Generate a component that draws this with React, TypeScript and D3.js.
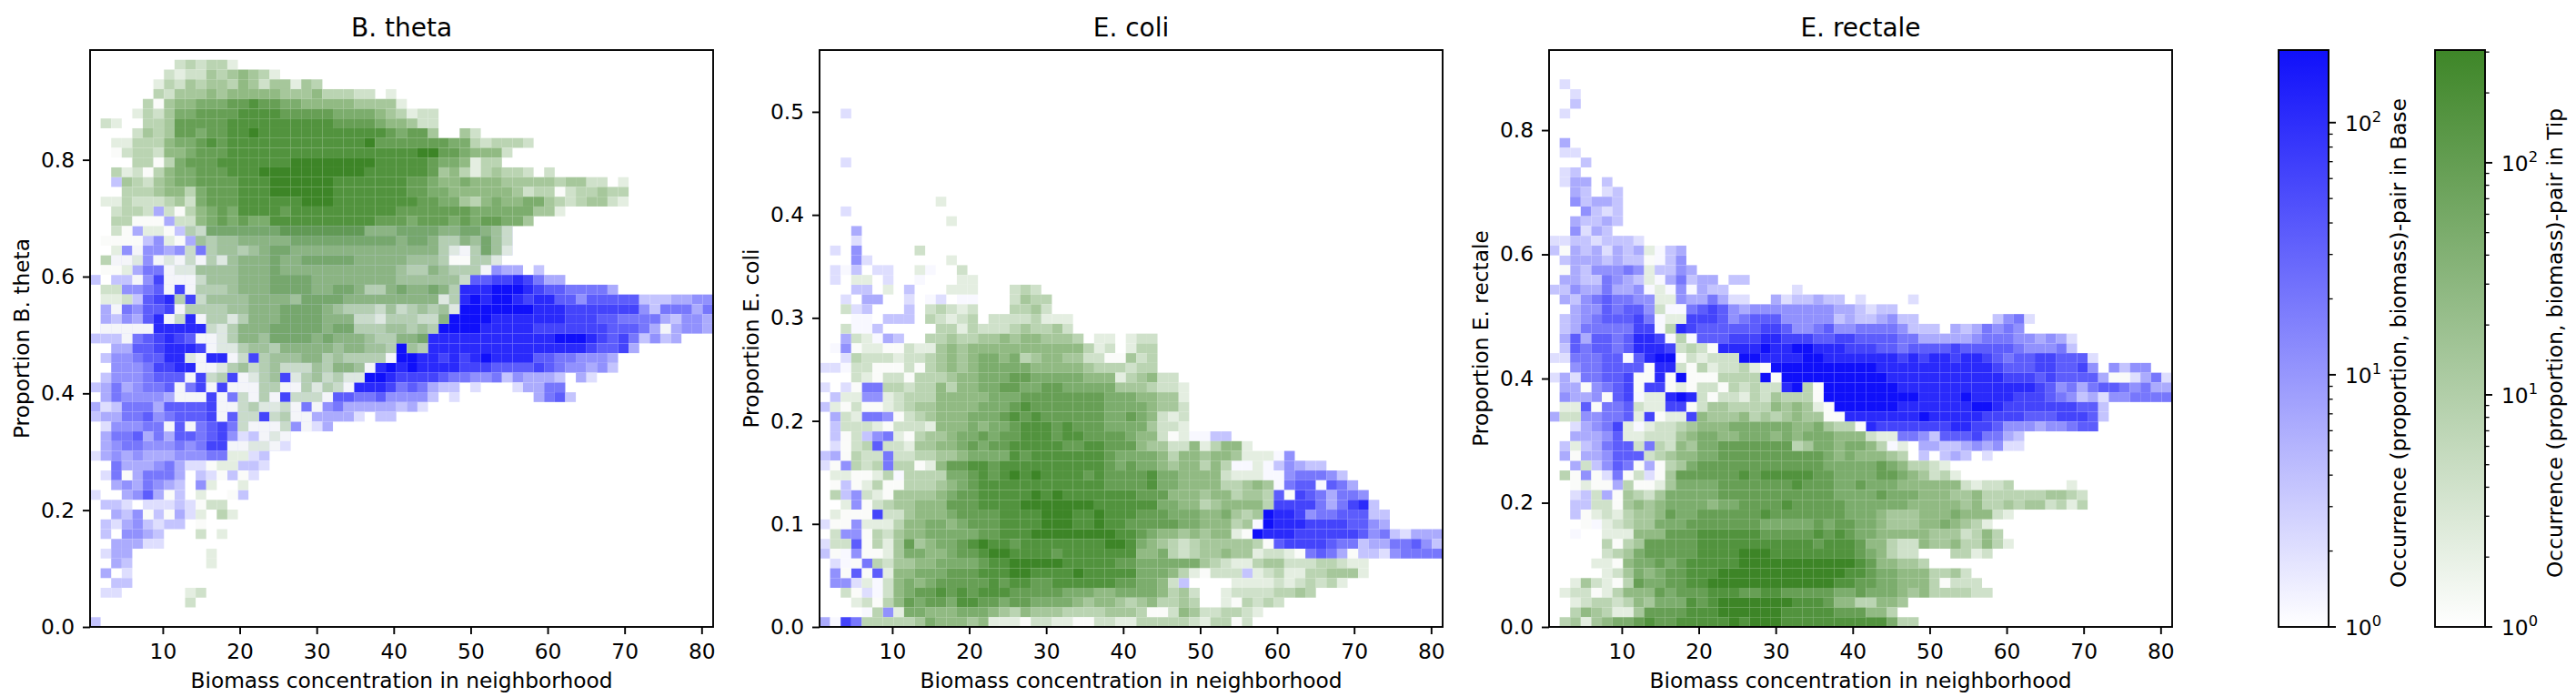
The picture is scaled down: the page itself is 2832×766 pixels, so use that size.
import { useEffect, useRef } from "react";
import * as d3 from "d3";

// one string per histogram row, top row first, one char per bin:
// "." empty, 0-9 Tip count level, a-j Base count level, A-J Tip level over a Base bin
const bThetaRows = [
  "",
  "........232331",
  ".......21224345431",
  "......1324344354244143",
  "......324445455555444533322.1",
  ".....3045566677877665555544441",
  "....13246677778888777776666543122",
  ".21..33477777" + "8888888888" + "7777" + "655422",
  "....2" + "43477677" + "889" + "888888888888" + "76" + "774" + "..42",
  "..11333566787" + "8888888888888" + "9" + "7777777" + "66" + "323332",
  "..02332556777" + "888888888888888888" + "997765552",
  "....33036777" + "8888888" + "99999999" + "88888" + "7665133",
  "..31203566777" + "888" + "9999999999" + "888888" + "7453134332.2",
  "..c43245667777" + "888" + "999999" + "8888888" + "77655655544444" + "34422.1",
  "...33345536777" + "888" + "999999" + "8888888" + "776655555542330233433",
  ".113222342677788" + "888" + "89998888" + "8888" + "77664356" + "5566" + "4323" + "4421",
  "..2332d2035676" + "8888" + "7" + "8888888888" + "7777777" + "666666" + "441",
  "..33000d22" + "5676766" + "8888888888" + "777" + "677767677664",
  "..20d110cDC" + "GGGGGGG" + "HHHHHHHH" + "FFF" + "GGGGFFGGFEC",
  ".0000ce10d" + "EDEEFFFFF" + "GGGGGGGGGG" + "FGGFDDFEGEC",
  "..1eAeedeCfDEEDEFGG" + "FFFFFFFFFFF" + "FFFDBADGEB",
  ".3AABeABACADBEFFFGFFG" + "GGGGFFFFF" + "EEED00DDB",
  ".001dffABBEEEEFFFGF" + "FFFFFFFFFF" + "EDDFEDDD" + "Aedd.c",
  "c.ccAehAAACEEEFFFGGGG" + "FFFFFFFF" + "EEEEEEC" + "gghhihfdd",
  ".22eefgAhADDDEFFFGGGGFFGGFDDFGFFGFD" + "iiijjjihggffffd",
  ".112cghiDhCEEEEFFFFEGGGGFF" + "FFF" + "FFFF" + "BD" + "ijijjihiiggeggggg" + "cccddee",
  ".dAfeggh" + "ADDDDEEFFFGGGGFEDDDCECDEDEB" + "jjjjjjj" + "iii" + "hhhhhhh" + "ecfffdf",
  ".dcedgiACiADDBDFFFGGGGFFFCCBDDDCCF" + "jjjjiiiiiiihhhggffffdceed",
  ".AAAAA" + "iiiii" + "CBDFFFGGGGGFGGDDDEEDED" + "jjjjiiiiihhhhhhhgggfdAdeed",
  "cccAfghihgAABDFFEGGGGFGFFFEDDFFG" + "iiiiiiiiiiii" + "jjj" + "ihghfcecd",
  "..ddgghiiihABBDEEDFFFFFEFFEEDjED" + "iiiiiiiiiiiiiii" + "hgghd",
  ".ceefggiiBAiiAChDEEEFFDEDDDDAjjiihihijiiiiggffeeed",
  "..eeefhhiiAABDECDECCCEDFFEAijijiiiihhhgggghgfeedec",
  ".ceeefgggAhCDhABDEhBDECDBBjjihhhhgffeefcedddc.db",
  "cdfdeffgAfhAhAAADDAADBDCAiiihfgfdcc.b...bddff",
  ".dfeeeedAAAhAfCADAhCCCAggffgeeeec.b.......dfgc",
  "dbcfffdgggghAACDBBCAfAefdddddcdb",
  "cddffgefggghAgCChCDAAddddb.cc",
  ".beeeffAgAfghfCAAACeAbd",
  ".dffgdfdggfghebcABA",
  ".deffeeefefhhAABBAb",
  "bdededddeeeff11bc",
  "..fdddefdbb011ccb",
  ".bf0dfffd.cb0c0b",
  "..dedfedc.e1..1",
  "b..degd0c.1..0c",
  ".ccb.bbbcb022",
  "..dce0c0db1.31",
  ".cbdecbcc.0",
  ".c.eedc...2.1",
  "..dddbb",
  ".bdd.......1",
  "..dc.......1",
  ".d.b",
  "..cc",
  ".bb......12",
  ".........2",
  "",
  "c",
];

const eColiRows = [
  "", "", "", "", "", "",
  "..b",
  "", "", "", "",
  "..b",
  "", "", "",
  "...........1",
  "..b",
  "............1",
  "...d",
  "...b",
  ".b.e.....2",
  "...eb.......1",
  ".bac.bb..1a..2",
  ".b.11.b..a...11",
  "...cc.1.c...111...232",
  "..b.dd..b.ab.aa...2433",
  "..2bc...c.23212...3342",
  "...aa.ccc.32123.22223111",
  "..2aac.....3313222343342",
  "..d21adc..334334454554443.11.122",
  ".ae01100211" + "4545" + "5555555555" + "312.133",
  "..b3222122" + "3454566563455442200423",
  "bba2200020" + "3454566666" + "55555" + "4333233",
  "...210220" + "3334556667766666" + "555" + "134522",
  "b.b0ff33233" + "5355667766" + "77" + "66666" + "4443221",
  ".c11ee12333" + "55555" + "666" + "77777777" + "666" + "55" + "44" + "1",
  "c1020012344" + "5555" + "666" + "78" + "7777777" + "6666" + "5442",
  ".d21ffe0234" + "555" + "666" + "7878" + "777777" + "66765212",
  ".c222102221" + "5556566" + "788878777" + "66664221",
  ".c02cef10" + "3445667677" + "8887887777" + "65520" + "1aacc",
  ".b023g221" + "445567677888887788" + "777" + "54422" + "513551",
  "cd0322f2233" + "4456666" + "87" + "8888888" + "7666653554554" + "111ae",
  "b0e323f3301" + "577" + "887" + "8888888888" + "767665455353" + "aa1a" + "cedcc",
  ".110013a3333" + "667" + "878989888878" + "77778665555" + "2111aaefffec",
  ".0c01300333" + "4567" + "888888888888" + "77778665555" + "33454" + "afggagfd",
  ".3ce2104444" + "5677" + "88888" + "989" + "8888888" + "7775554553443" + "g0hgfdffe",
  "..1e0234455" + "5777" + "8888" + "9999999" + "888888" + "66553455553" + "hhhhfdfhic",
  ".1000h22455" + "567777" + "8888" + "999" + "88" + "9" + "888" + "777" + "666" + "556434" + "jiiheffgggcc",
  "b00e1113" + "556656" + "777" + "8888" + "999" + "88" + "9" + "88" + "77777" + "66" + "555" + "34" + "a" + "jiii" + "hhhh" + "gg" + "ed",
  ".2ee032455" + "66666" + "77" + "888" + "99999999" + "88" + "765545455" + "10" + "jiii" + "hhhhhh" + "gefcbddd",
  "b22g03147" + "4566789887" + "88888888" + "99" + "8" + "654323444443" + "0" + "ghhhhgffcddffgec",
  "c0ae00146" + "655677899" + "8888" + "7" + "8888888" + "55632344544" + "12210" + "fgfd0ccbeffff",
  ".ba0f324455" + "6666" + "7" + "88" + "99999" + "88888" + "77" + "666666" + "4321134422233211",
  ".e0g0g155" + "666" + "777" + "888" + "99" + "8888" + "9" + "88888" + "6665310222" + "c12311334441",
  ".eeb1a25656" + "77777" + "87" + "88" + "77" + "888888" + "77" + "6652c" + "...." + "11112123231",
  "..20ba25677" + "8787888" + "77777" + "666" + "55" + "6666" + "5342" + ".." + "122223343",
  "...120357" + "677688776776666545543453343" + ".." + "103232",
  "....a3e1" + "6655566654354443333444300254223321",
  "dahf" + "333334655545" + "1110221100221133333213302",
];

const eRectaleRows = [
  "", "", "",
  ".b",
  "..b",
  "..c",
  ".b",
  "", "",
  ".d",
  ".bb",
  "...c",
  ".bc",
  ".bdd.c",
  "..dc.bc",
  "..ecddc",
  "...ecbc",
  "..dccdc",
  "..ebdc",
  "bbccbcccb",
  "c0dcdbdcd1acd",
  ".cdddcdcc0ace",
  ".0dceeefe1cced",
  ".ddccfedc1adfcdd.cc",
  "cceddfddea1aeadcc......b",
  ".dcefgffee11eddfdbb..dbccdcc.b....b",
  "..deegfgge2aafghged" + "eeeeeeee" + "ddcbcc",
  ".cdefggghfa11hhhgefggg" + "eeeee" + "cdcc" + "decc" + "......." + "cefb",
  ".cdfffffhha3ih" + "gggggg" + "hhgeefge" + "effffeccc.dcdfefe",
  ".dgdggfgiiha3a" + "ggg" + "hhh" + "ii" + "hhh" + "gg" + "hh" + "gggg" + "ff" + "ddddd" + "e" + "fff" + "ee" + "ded" + "b",
  ".cgfggfgiiih2320" + "iiii" + "j" + "ii" + "jj" + "iii" + "hhh" + "gg" + "f" + "gggg" + "h" + "ggggg" + "f" + "eee" + "f" + "c",
  "bbfffggagijj" + "021222" + "jj" + "iiii" + "jj" + "iiiiiii" + "h" + "i" + "h" + "ii" + "h" + "ii" + "h" + "gf" + "gg" + "hh" + "ggg" + "b",
  "..effgggg0ii" + "203122310" + "jjjjjjjjjj" + "iiiiiiiiiii" + "h" + "ggg" + "hh" + "gg" + "h" + "e" + "." + "ecee",
  "bdbffggh00i0j0003333j0" + "jjjjjjjjjj" + "iiiiiiiiiii" + "hhh" + "g" + "h" + "gggg" + "d" + "00" + "bdfb",
  ".dd0efgh0hh" + "01022032322" + "ij30" + "jjjjjjj" + "iiiiiiiiiiiii" + "hg" + "efdfggfefdd",
  ".edde0gha11iji" + "20221324333" + "0" + "jjjjjjjjj" + "iiii" + "j" + "iiii" + "hhh" + "g" + "fecdb" + "ee" + "ffff",
  ".11g0ffg211hh0" + "244333354541" + "0" + "jjjjjj" + "iiiiiii" + "jj" + "i" + "hhhhhhh" + "gg" + "c",
  "d22eeffg1h011h" + "544453434544" + "00" + "iiiiiii" + "j" + "iiiii" + "hhhh" + "ggg" + "hhh" + "g" + "c",
  "..bdefh1a12234" + "555" + "666666" + "55" + "64330" + "i" + "hhhhhhh" + "ii" + "hh" + "g" + "eee" + "d" + "ee" + "f" + "gg",
  "..dddeg11222" + "456655666565666" + "555" + "211" + "ffecggghffdc",
  ".c1cdfgg2f3254" + "66" + "7777777" + "34" + "66" + "56653a1." + "ddccdedebb",
  ".d0ddeggg2345566" + "7777777777" + "65655543" + ".c.cdc.b",
  "..d2cegf0d0346" + "777777777777" + "66666" + "7" + "653321",
  ".30e0bf02b04" + "777777" + "87" + "88888" + "77" + "6666" + "77" + "654231",
  "..0100d30014" + "6666" + "7777777" + "8" + "777" + "667666" + "555555" + "21223" + "....." + "1",
  "..bc2d04324" + "66666" + "77777777777" + "6666" + "7" + "666" + "555" + "445" + "333333" + "4432",
  "..cc2204545" + "66665" + "66" + "7777" + "8" + "77777" + "666666" + "55555" + "45" + "334" + "3442313",
  "..c0121344" + "5766" + "777777" + "8" + "7777777" + "666" + "5444" + "555" + "6" + "555" + "21",
  "...0a12344" + "666" + "7777777" + "66666" + "76" + "77" + "66" + "5" + "444" + "55" + "6" + "5431",
  "..a..111555" + "777" + "888888" + "77777" + "878" + "7" + "66" + "55555" + "444" + "2353",
  ".....3034" + "77777" + "88888888888" + "7" + "888" + "7" + "55" + "322" + "5445" + "3353" + "1",
  ".....2346" + "77777" + "8888" + "999" + "88888888" + "7" + "6" + "5" + "322" + "..." + "3312",
  "....110566767" + "88888" + "99999999999" + "8" + "7" + "55" + "443",
  ".....12465677" + "888" + "999999999999" + "88" + "7" + "66" + "555" + "3342",
  "..14210376677" + "88" + "999999999999" + "88" + "77" + "66" + "555" + "30222",
  ".1220135557" + "6777" + "888" + "77" + "88" + "77777" + "66" + "7" + "666" + "545" + "3333" + "22",
  "..12332354666" + "878" + "9999999" + "888" + "7" + "55" + "33" + "55" + "4",
  "..3543114" + "7777" + "888" + "999999" + "88888" + "777" + "55" + "3",
  ".3414566" + "78" + "77" + "88888" + "9" + "8" + "999" + "8888888888" + "633",
];

const panelNames = ["B. theta", "E. coli", "E. rectale"];
const panelRows = [bThetaRows, eColiRows, eRectaleRows];
const panelLefts = [99, 901, 1703];
const panelYMax = [0.988, 0.56, 0.929];
const panelYTicks = [
  [0, 0.2, 0.4, 0.6, 0.8],
  [0, 0.1, 0.2, 0.3, 0.4, 0.5],
  [0, 0.2, 0.4, 0.6, 0.8],
];
const xDomain = [0.555, 81.5];
const xTicks = [10, 20, 30, 40, 50, 60, 70, 80];
const binCount = 59;

const colorbarNames = ["Base", "Tip"];
const colorbarLefts = [2505, 2677];
const colorbarMax = [194, 306];
const colorbarTop = ["#1010fa", "#3e8628"];
const tipCellTop = "#28780f";
const underTipLevel = 2;

const top = 55;
const bottom = 689;
const panelWidth = 685;
const colorbarWidth = 55;
const font = "'DejaVu Sans'";

const levelColor = (end: string) =>
  d3.scaleLinear<string>().domain([-0.28, 9]).range(["#ffffff", end]);

function decodeCells(rows: string[]) {
  const cells: { row: number; col: number; base: number | null; tip: number | null }[] = [];
  rows.forEach((line, row) => {
    [...line].forEach((ch, col) => {
      if (ch === ".") return;
      if (ch >= "0" && ch <= "9") cells.push({ row, col, base: null, tip: +ch });
      else if (ch >= "a" && ch <= "j") cells.push({ row, col, base: ch.charCodeAt(0) - 97, tip: null });
      else cells.push({ row, col, base: underTipLevel, tip: ch.charCodeAt(0) - 65 });
    });
  });
  return cells;
}

function styleAxis(g: d3.Selection<SVGGElement, unknown, null, undefined>) {
  g.select(".domain").remove();
  g.selectAll("line").attr("stroke", "#000").attr("stroke-width", 1.9);
  g.selectAll("text").attr("fill", "#000").attr("font-family", font).attr("font-size", 23.3);
}

export default function App() {
  const svgRef = useRef<SVGSVGElement>(null);

  useEffect(() => {
    if (!svgRef.current) return;
    const svg = d3.select(svgRef.current);
    svg.selectAll("*").remove();

    const baseColor = levelColor(colorbarTop[0]);
    const tipColor = levelColor(tipCellTop);

    panelNames.forEach((name, i) => {
      const left = panelLefts[i];
      const x = d3.scaleLinear().domain(xDomain).range([left, left + panelWidth]);
      const y = d3.scaleLinear().domain([0, panelYMax[i]]).range([bottom, top]);
      const colBand = d3.scaleBand<number>().domain(d3.range(binCount)).range([left, left + panelWidth]);
      const rowBand = d3.scaleBand<number>().domain(d3.range(binCount)).range([top, bottom]);
      const cells = decodeCells(panelRows[i]);

      const g = svg.append("g");

      g.append("g")
        .selectAll("rect")
        .data(cells.filter((d) => d.base !== null))
        .join("rect")
        .attr("x", (d) => colBand(d.col) as number)
        .attr("y", (d) => rowBand(d.row) as number)
        .attr("width", colBand.bandwidth())
        .attr("height", rowBand.bandwidth())
        .attr("fill", (d) => baseColor(d.base as number));

      g.append("g")
        .selectAll("rect")
        .data(cells.filter((d) => d.tip !== null))
        .join("rect")
        .attr("x", (d) => colBand(d.col) as number)
        .attr("y", (d) => rowBand(d.row) as number)
        .attr("width", colBand.bandwidth())
        .attr("height", rowBand.bandwidth())
        .attr("fill", (d) => tipColor(d.tip as number))
        .attr("fill-opacity", 0.9);

      g.append("rect")
        .attr("x", left)
        .attr("y", top)
        .attr("width", panelWidth)
        .attr("height", bottom - top)
        .attr("fill", "none")
        .attr("stroke", "#000")
        .attr("stroke-width", 1.9);

      g.append("g")
        .attr("transform", `translate(0,${bottom})`)
        .call(d3.axisBottom(x).tickValues(xTicks).tickSize(8).tickPadding(10).tickFormat(d3.format("d")))
        .call(styleAxis);

      g.append("g")
        .attr("transform", `translate(${left},0)`)
        .call(d3.axisLeft(y).tickValues(panelYTicks[i]).tickSize(8).tickPadding(9).tickFormat(d3.format(".1f")))
        .call(styleAxis);

      g.append("text")
        .attr("x", left + panelWidth / 2)
        .attr("y", 40)
        .attr("text-anchor", "middle")
        .attr("font-family", font)
        .attr("font-size", 28)
        .text(name);

      g.append("text")
        .attr("x", left + panelWidth / 2)
        .attr("y", 756)
        .attr("text-anchor", "middle")
        .attr("font-family", font)
        .attr("font-size", 23.3)
        .text("Biomass concentration in neighborhood");

      g.append("text")
        .attr("transform", `translate(${left - 67},${(top + bottom) / 2}) rotate(-90)`)
        .attr("text-anchor", "middle")
        .attr("font-family", font)
        .attr("font-size", 23.3)
        .text(`Proportion ${name}`);
    });

    const defs = svg.append("defs");
    colorbarNames.forEach((name, i) => {
      const left = colorbarLefts[i];
      const gradient = defs
        .append("linearGradient")
        .attr("id", `cb-${name}`)
        .attr("x1", 0)
        .attr("x2", 0)
        .attr("y1", 1)
        .attr("y2", 0);
      gradient.append("stop").attr("offset", 0).attr("stop-color", "#ffffff");
      gradient.append("stop").attr("offset", 1).attr("stop-color", colorbarTop[i]);

      const g = svg.append("g");
      g.append("rect")
        .attr("x", left)
        .attr("y", top)
        .attr("width", colorbarWidth)
        .attr("height", bottom - top)
        .attr("fill", `url(#cb-${name})`)
        .attr("stroke", "#000")
        .attr("stroke-width", 1.9);

      const scale = d3.scaleLog().domain([1, colorbarMax[i]]).range([bottom, top]);
      const minor = d3.range(0, 3).flatMap((e) =>
        d3.range(2, 10).map((m) => m * 10 ** e).filter((v) => v <= colorbarMax[i])
      );
      const axisX = left + colorbarWidth;
      g.append("g")
        .selectAll("line")
        .data(minor)
        .join("line")
        .attr("x1", axisX)
        .attr("x2", axisX + 4.6)
        .attr("y1", (d) => scale(d))
        .attr("y2", (d) => scale(d))
        .attr("stroke", "#000")
        .attr("stroke-width", 1.3);

      const major = g.append("g").selectAll("g").data([0, 1, 2]).join("g");
      major
        .append("line")
        .attr("x1", axisX)
        .attr("x2", axisX + 8)
        .attr("y1", (d) => scale(10 ** d))
        .attr("y2", (d) => scale(10 ** d))
        .attr("stroke", "#000")
        .attr("stroke-width", 1.9);
      const label = major
        .append("text")
        .attr("x", axisX + 18)
        .attr("y", (d) => scale(10 ** d) + 9)
        .attr("font-family", font)
        .attr("font-size", 23.3);
      label.append("tspan").text("10");
      label
        .append("tspan")
        .attr("dy", -10)
        .attr("font-size", 16.3)
        .text((d) => d);

      g.append("text")
        .attr("transform", `translate(${left + 133},${(top + bottom) / 2 + 5}) rotate(-90)`)
        .attr("text-anchor", "middle")
        .attr("dominant-baseline", "middle")
        .attr("font-family", font)
        .attr("font-size", 23.3)
        .text(`Occurrence (proportion, biomass)-pair in ${name}`);
    });
  }, []);

  return (
    <svg
      ref={svgRef}
      width={2832}
      height={766}
      style={{ position: "absolute", left: 0, top: 0, background: "#fff" }}
    />
  );
}
